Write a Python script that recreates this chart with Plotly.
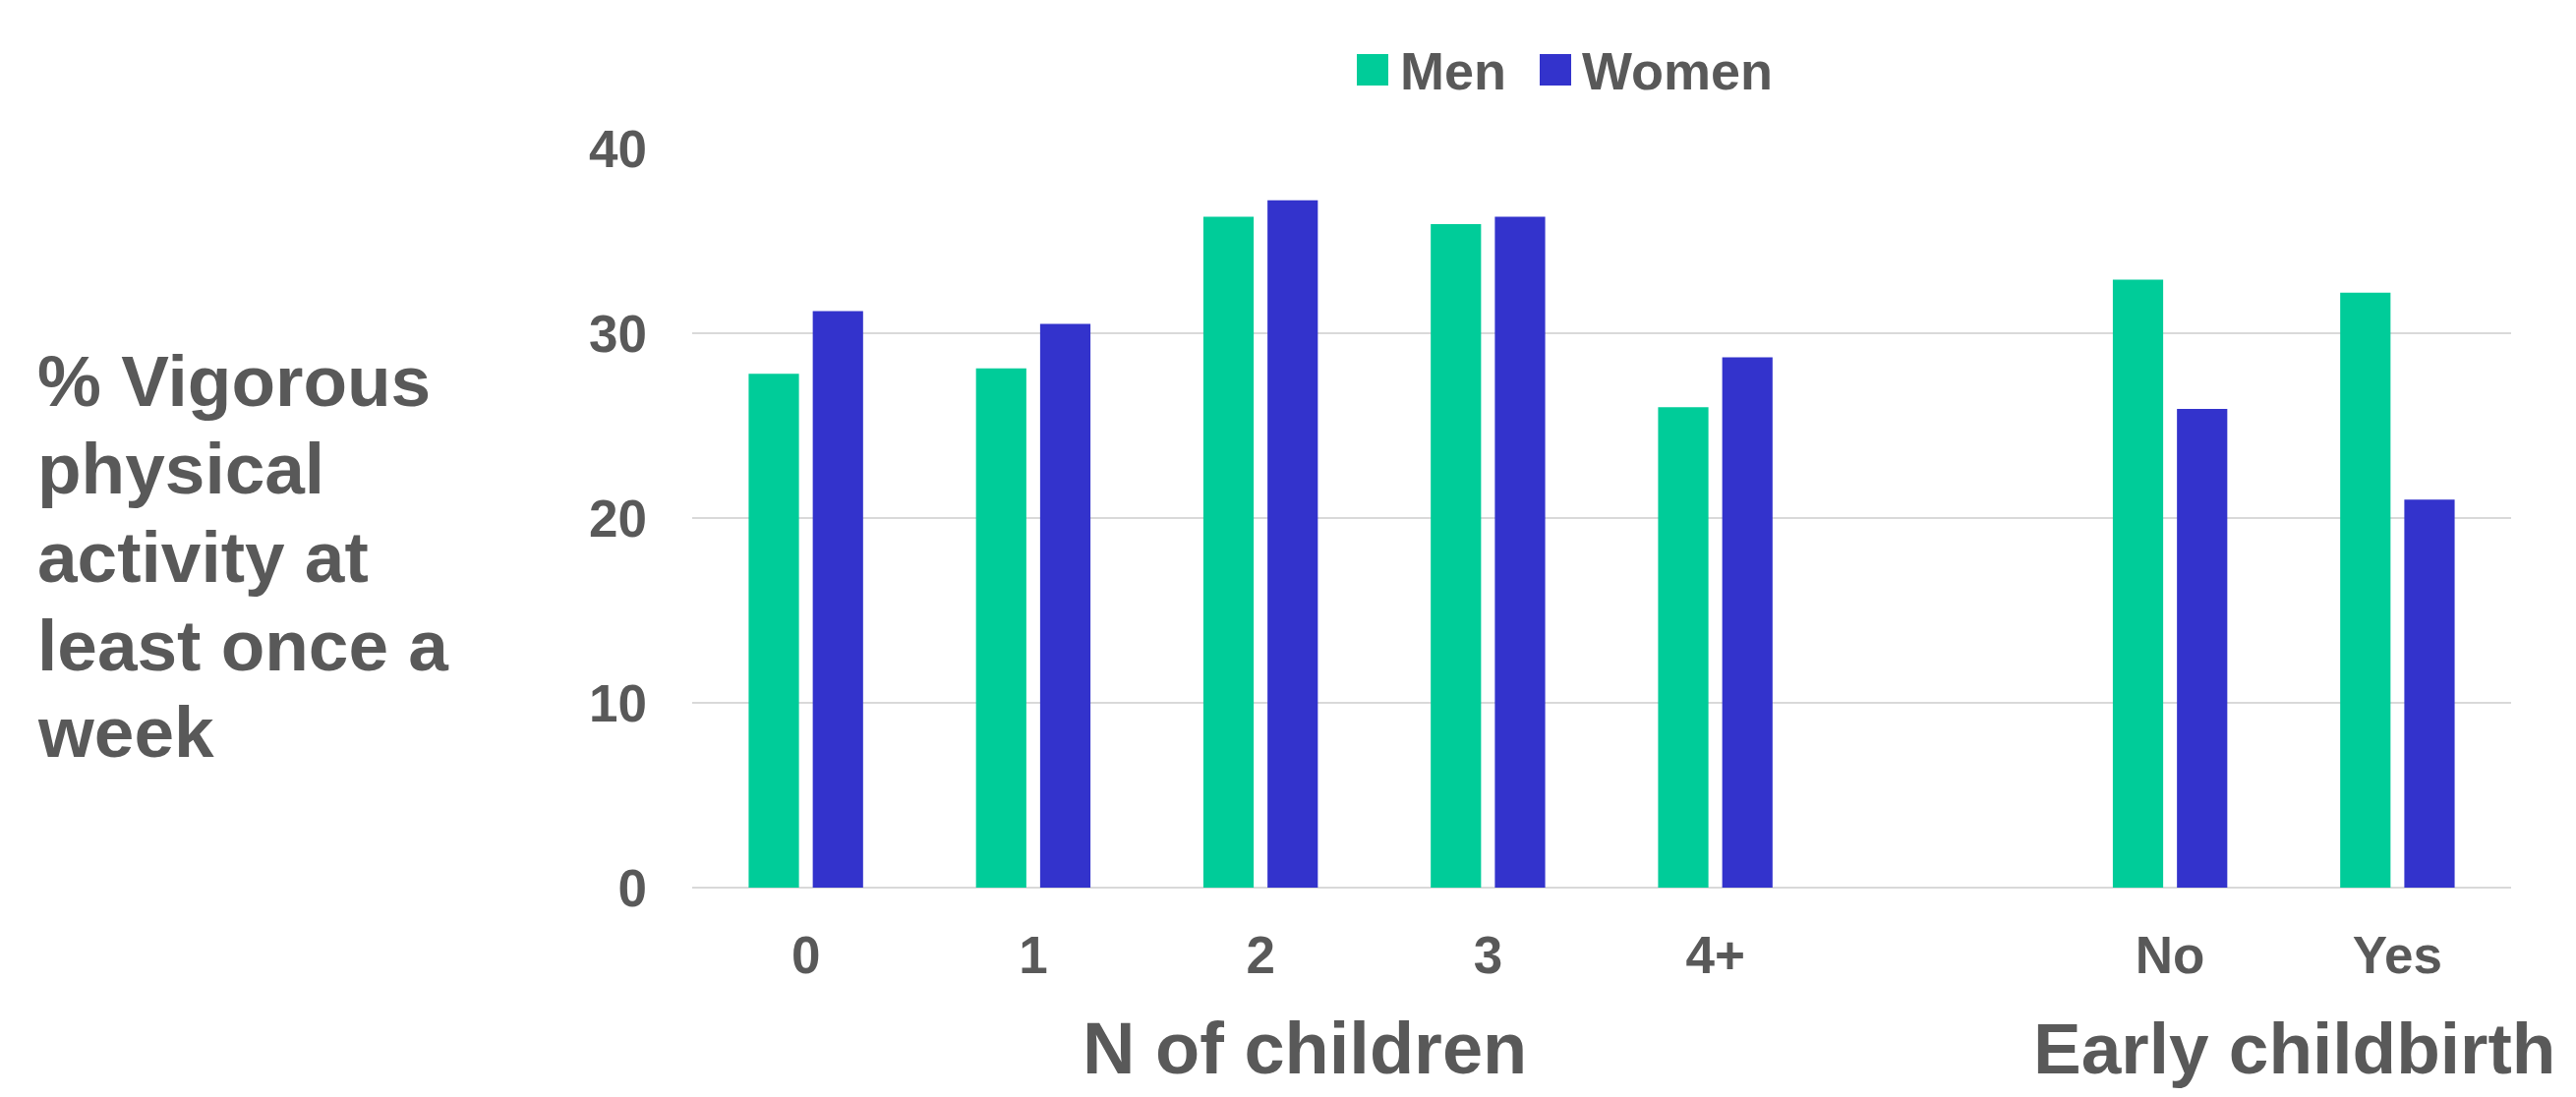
import plotly.graph_objects as go

# ---- data ----
categories = ["0", "1", "2", "3", "4+", " ", "No", "Yes"]
bar_categories = ["0", "1", "2", "3", "4+", "No", "Yes"]
men = [27.8, 28.1, 36.3, 35.9, 26.0, 32.9, 32.2]
women = [31.2, 30.5, 37.2, 36.3, 28.7, 25.9, 21.0]
series_names = ["Men", "Women"]
y_ticks = [0, 10, 20, 30, 40]
y_title_lines = ["% Vigorous", "physical", "activity at", "least once a", "week"]
group_labels = ["N of children", "Early childbirth"]

GREEN = "#00CC99"
BLUE = "#3333CC"
TEXT = "#595959"
GRID = "#D9D9D9"
FONT = "Liberation Sans, Arial, sans-serif"

fig = go.Figure()
fig.add_trace(go.Bar(x=bar_categories, y=men, name=series_names[0],
                     marker=dict(color=GREEN, line=dict(width=0))))
fig.add_trace(go.Bar(x=bar_categories, y=women, name=series_names[1],
                     marker=dict(color=BLUE, line=dict(width=0))))

# page body has an 8px margin; layout coordinates = screenshot coordinates - 8
OFF = 8
W, H = 2620 - 2 * OFF, 1116 - OFF
L, R, T, B = 704 - OFF, 2620 - 2554 - OFF, 151 - OFF, 1116 - 903
pw, ph = W - L - R, H - T - B

def px_x(x):
    return (x - OFF - L) / pw

def px_y(y):
    return (T + ph - (y - OFF)) / ph

fig.update_layout(
    width=W, height=H,
    margin=dict(l=L, r=R, t=T, b=B, autoexpand=False),
    paper_bgcolor="white", plot_bgcolor="white",
    barmode="group", bargap=0.436, bargroupgap=0.215,
    font=dict(family=FONT, color=TEXT, size=50, weight="bold"),
    showlegend=False,
    xaxis=dict(type="category", categoryorder="array", categoryarray=categories,
               range=[-0.5, len(categories) - 0.5], showgrid=False, zeroline=False,
               showline=False, ticks="", ticklabelstandoff=33,
               tickfont=dict(family=FONT, size=53, color=TEXT, weight="bold")),
    yaxis=dict(range=[0, 40], tickvals=y_ticks, showgrid=True, gridcolor=GRID, gridwidth=2,
               zeroline=True, zerolinecolor=GRID, zerolinewidth=2, showline=False,
               ticks="", ticklabelstandoff=45,
               tickfont=dict(family=FONT, size=53, color=TEXT, weight="bold")),
)

# legend (squares + labels)
legend_items = [(series_names[0], GREEN, 1380, 1422), (series_names[1], BLUE, 1566, 1607)]
for name, col, sx, tx in legend_items:
    fig.add_shape(type="rect", xref="paper", yref="paper",
                  x0=px_x(sx), x1=px_x(sx + 32), y0=px_y(87), y1=px_y(55),
                  fillcolor=col, line=dict(width=0))
    fig.add_annotation(text=name, xref="paper", yref="paper", x=px_x(tx), y=px_y(72),
                       xanchor="left", yanchor="middle", showarrow=False,
                       font=dict(family=FONT, size=54, color=TEXT, weight="bold"))

# y-axis title, one line per annotation to match the line spacing
line_centers = [387, 477, 566, 656, 744]
for line, yc in zip(y_title_lines, line_centers):
    fig.add_annotation(text=line, xref="paper", yref="paper", x=px_x(36), y=px_y(yc),
                       xanchor="left", yanchor="middle", showarrow=False,
                       font=dict(family=FONT, size=73, color=TEXT, weight="bold"))

fig.add_annotation(text=group_labels[0], xref="paper", yref="paper", x=px_x(1327), y=px_y(1066),
                   xanchor="center", yanchor="middle", showarrow=False,
                   font=dict(family=FONT, size=74, color=TEXT, weight="bold"))
fig.add_annotation(text=group_labels[1], xref="paper", yref="paper", x=px_x(2066), y=px_y(1066),
                   xanchor="left", yanchor="middle", showarrow=False,
                   font=dict(family=FONT, size=73, color=TEXT, weight="bold"))

fig.write_html("out.html")
